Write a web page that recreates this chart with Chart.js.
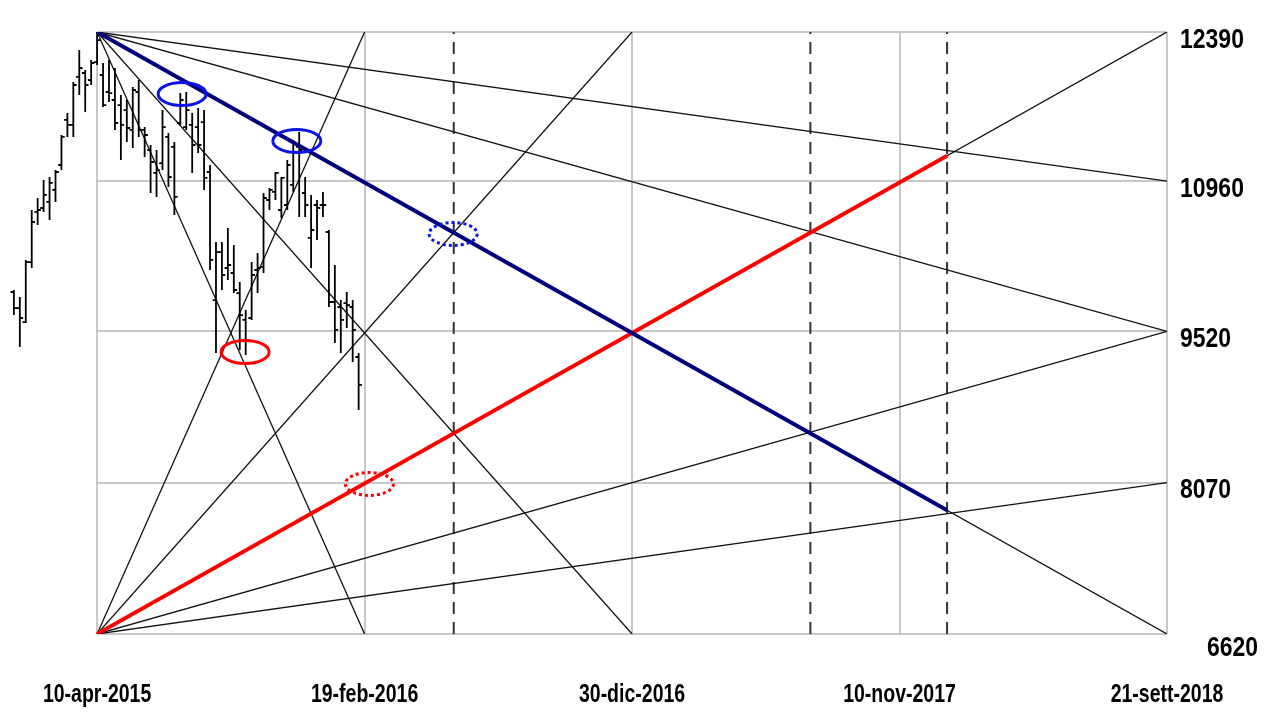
<!DOCTYPE html>
<html>
<head>
<meta charset="utf-8">
<script src="https://cdn.jsdelivr.net/npm/chart.js@4/dist/chart.umd.min.js"></script>
<style>
  html, body { margin: 0; padding: 0; background: #ffffff; }
  #wrap { width: 1275px; height: 713px; }
</style>
</head>
<body>
<div id="wrap"><canvas id="c" width="1275" height="713"></canvas></div>
<script>
// ---------- DATA ----------
// Week index relative to 10-apr-2015 (week 0)
const barWeeks = [-14,-13,-12,-11,-10,-9,-8,-7,-6,-5,-4,-3,-2,-1,0,1,2,3,4,5,6,7,8,9,10,11,12,13,14,15,16,17,18,19,20,21,22,23,24,25,26,27,28,29,30,31,32,33,34,35,36,37,38,39,40,41,42,43,44];
const barOpen  = [9898,9744,9610,10185,10665,10703,10761,10876,11115,11547,11499,11959,11997,11930,12102,11978,11815,11738,11690,11642,11451,11815,11451,11259,11039,11134,11384,11288,11518,11479,11499,11479,11527,11048,9821,10281,10128,10080,9888,9630,9649,10109,10138,10780,10857,10684,10732,10924,11288,10847,10416,10732,10732,10473,9802,9754,9792,9754,9275];
const barHigh  = [9917,9850,10205,10684,10799,10971,11000,11067,11403,11614,11911,12217,12026,12122,12390,12093,12122,12045,11786,11738,11863,11930,11479,11307,11259,11642,11422,11336,11805,11815,11614,11662,11642,11115,10377,10377,10511,10349,9994,9726,10185,10272,10847,10895,11048,11000,11163,11355,11432,11000,10828,10780,10857,10492,10157,9821,9898,9821,9313];
const barLow   = [9677,9371,9601,10128,10540,10665,10588,10761,11067,11384,11384,11786,11623,11882,12074,11671,11719,11451,11163,11336,11278,11384,11192,10847,10809,11067,10904,10636,11499,11451,11039,11230,10875,10109,9313,9917,10013,9888,9342,9294,9630,9888,10080,10684,10780,10607,10684,10857,10617,10617,10128,10396,10617,9754,9409,9313,9553,9227,8767];
const barClose = [9744,9649,10185,10569,10684,10828,10943,11048,11384,11499,11882,12045,11882,12093,12313,11690,11805,11518,11499,11470,11834,11451,11403,11144,11067,11479,11000,10809,11738,11642,11307,11307,10991,10205,10281,10061,10157,9917,9677,9438,10061,10128,10799,10876,11039,10991,11115,11240,11259,10732,10492,10703,10732,9802,9534,9630,9773,9534,9007];

// Axis ticks
const xTickWeeks  = [0, 45, 90, 135, 180];
const xTickLabels = ['10-apr-2015', '19-feb-2016', '30-dic-2016', '10-nov-2017', '21-sett-2018'];
const yTickValues = [12390, 10960, 9520, 8070, 6620];
const yTickLabels = ['12390', '10960', '9520', '8070', '6620'];

// Gann fan from the high (week 0, 12390) and from the low (week 0, 6620)
const fanTopStart = 12390;
const fanTopEndWeeks  = [180, 180, 180, 90, 45];
const fanTopEndValues = [10960, 9520, 6620, 6620, 6620];
const fanBottomStart = 6620;
const fanBottomEndWeeks  = [180, 180, 180, 90, 45];
const fanBottomEndValues = [8070, 9520, 12390, 12390, 12390];

// Highlighted fan segments
const blueLineWeeks  = [0, 143];
const blueLineValues = [12390, 7806];
const redLineWeeks   = [0, 143];
const redLineValues  = [6620, 11204];

// Dashed time lines
const dashedWeeks = [60, 120, 143];

// Ellipse markers
const ellipseWeeks  = [14.3, 33.6, 59.9, 24.9, 45.8];
const ellipseValues = [11796, 11345, 10454, 9323, 8058];
const ellipseColors = ['#0a14e6', '#0a14e6', '#0a14e6', '#ff0000', '#ff0000'];
const ellipseDashed = [false, false, true, false, true];

// ---------- BUILD DATASETS ----------
const X_MIN = -16, X_MAX = 180;
const Y_MIN = 6620, Y_MAX = 12390;

function seg(x1, y1, x2, y2) { return [{x: x1, y: y1}, {x: x2, y: y2}]; }

const datasets = [];

// dashed verticals
dashedWeeks.forEach(w => {
  datasets.push({
    data: seg(w, Y_MIN, w, Y_MAX),
    borderColor: '#333333', borderWidth: 2, borderDash: [12, 8],
    pointRadius: 0, order: 5
  });
});

// fan lines (thin)
fanTopEndWeeks.forEach((w, i) => {
  datasets.push({
    data: seg(0, fanTopStart, w, fanTopEndValues[i]),
    borderColor: '#111111', borderWidth: 1.3, pointRadius: 0, order: 4
  });
});
fanBottomEndWeeks.forEach((w, i) => {
  datasets.push({
    data: seg(0, fanBottomStart, w, fanBottomEndValues[i]),
    borderColor: '#111111', borderWidth: 1.3, pointRadius: 0, order: 4
  });
});

// OHLC bars
const hl = [], op = [], cl = [];
const tick = 0.55;
barWeeks.forEach((w, i) => {
  hl.push({x: w, y: barLow[i]}, {x: w, y: barHigh[i]}, {x: w, y: null});
  op.push({x: w - tick, y: barOpen[i]}, {x: w, y: barOpen[i]}, {x: w, y: null});
  cl.push({x: w, y: barClose[i]}, {x: w + tick, y: barClose[i]}, {x: w, y: null});
});
[hl, op, cl].forEach(d => {
  datasets.push({
    data: d, borderColor: '#000000', borderWidth: 1.8, pointRadius: 0,
    spanGaps: false, order: 3, borderCapStyle: 'butt'
  });
});

// highlighted lines
datasets.push({
  data: seg(blueLineWeeks[0], blueLineValues[0], blueLineWeeks[1], blueLineValues[1]),
  borderColor: '#00007a', borderWidth: 4, pointRadius: 0, order: 1
});
datasets.push({
  data: seg(redLineWeeks[0], redLineValues[0], redLineWeeks[1], redLineValues[1]),
  borderColor: '#ff0000', borderWidth: 3.8, pointRadius: 0, order: 1
});

// ---------- PLUGINS ----------
const gridPlugin = {
  id: 'gannGrid',
  beforeDatasetsDraw(chart) {
    const {ctx, scales: {x, y}} = chart;
    ctx.save();
    ctx.strokeStyle = '#c8c8c8';
    ctx.lineWidth = 2;
    const x0 = x.getPixelForValue(0), x1 = x.getPixelForValue(X_MAX);
    const y0 = y.getPixelForValue(Y_MAX), y1 = y.getPixelForValue(Y_MIN);
    yTickValues.forEach(v => {
      const py = Math.round(y.getPixelForValue(v));
      ctx.beginPath(); ctx.moveTo(x0, py); ctx.lineTo(x1, py); ctx.stroke();
    });
    xTickWeeks.forEach(w => {
      const px = Math.round(x.getPixelForValue(w));
      ctx.beginPath(); ctx.moveTo(px, y0); ctx.lineTo(px, y1); ctx.stroke();
    });
    ctx.restore();
  }
};

function stretchedText(ctx, text, px, py, sy) {
  ctx.save();
  ctx.translate(px, py);
  ctx.scale(1, sy);
  ctx.fillText(text, 0, 0);
  ctx.restore();
}

const overlayPlugin = {
  id: 'overlay',
  afterDatasetsDraw(chart) {
    const {ctx, scales: {x, y}} = chart;
    ctx.save();
    ellipseWeeks.forEach((w, i) => {
      const cx = x.getPixelForValue(w), cy = y.getPixelForValue(ellipseValues[i]);
      ctx.beginPath();
      ctx.ellipse(cx, cy, 24, 11.5, 0, 0, Math.PI * 2);
      ctx.strokeStyle = ellipseColors[i];
      ctx.lineWidth = 3;
      ctx.setLineDash(ellipseDashed[i] ? [3, 3] : []);
      ctx.stroke();
    });
    ctx.setLineDash([]);
    // axis labels
    ctx.fillStyle = '#000000';
    ctx.font = 'bold 19.5px "Liberation Sans", Arial, sans-serif';
    ctx.textAlign = 'center';
    ctx.textBaseline = 'middle';
    xTickWeeks.forEach((w, i) => {
      stretchedText(ctx, xTickLabels[i], x.getPixelForValue(w), chart.chartArea.bottom + 61, 1.35);
    });
    ctx.font = 'bold 23px "Liberation Sans", Arial, sans-serif';
    ctx.textAlign = 'left';
    yTickValues.forEach((v, i) => {
      const last = i === yTickValues.length - 1;
      const px = chart.chartArea.right + (last ? 40 : 13);
      const py = y.getPixelForValue(v) + (last ? 14 : 8);
      stretchedText(ctx, yTickLabels[i], px, py, 1.2);
    });
    ctx.restore();
  }
};

new Chart(document.getElementById('c'), {
  type: 'line',
  data: { datasets },
  options: {
    responsive: false,
    animation: false,
    events: [],
    layout: { padding: { left: 2, right: 108, top: 32, bottom: 79 } },
    plugins: { legend: { display: false }, tooltip: { enabled: false } },
    elements: { line: { tension: 0 } },
    scales: {
      x: { type: 'linear', min: X_MIN, max: X_MAX, display: false },
      y: { type: 'linear', min: Y_MIN, max: Y_MAX, display: false }
    }
  },
  plugins: [gridPlugin, overlayPlugin]
});
</script>
</body>
</html>
